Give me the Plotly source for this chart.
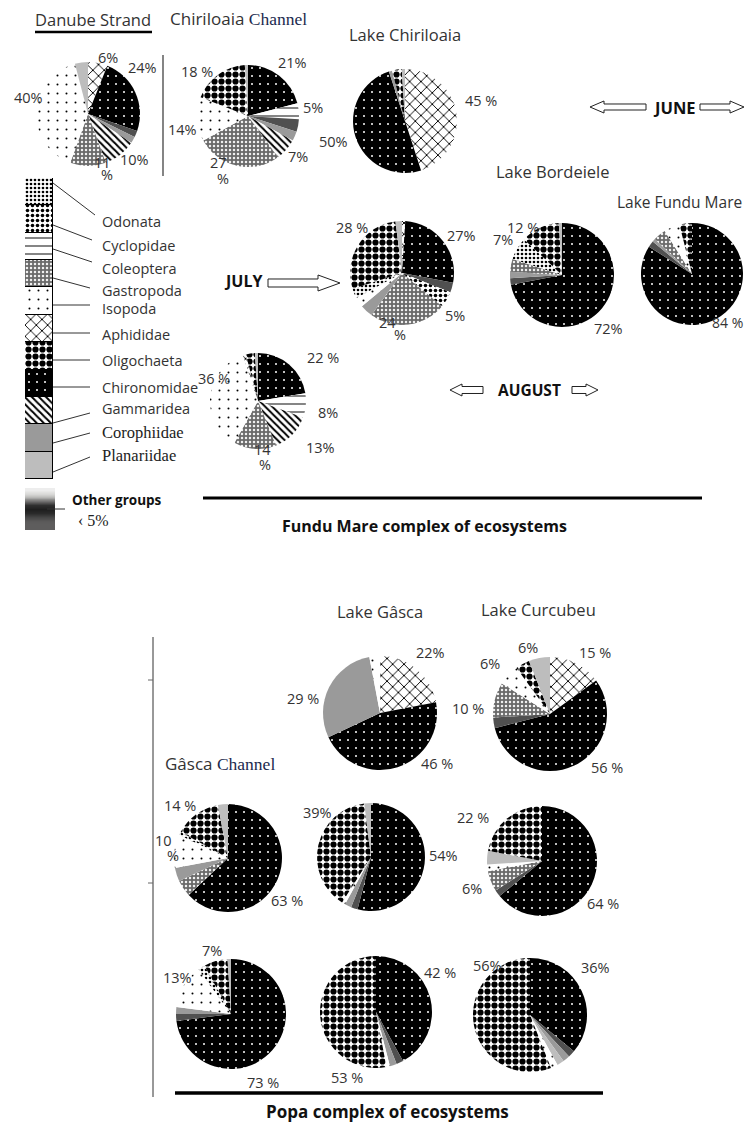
import plotly.graph_objects as go

# The page body adds an 8px margin, so the figure is placed at (8, 8) in the window.
OFF = 8
W, H = 754 - OFF, 1124 - OFF


def px(x):
    return (x - OFF) / W


def py(y):
    return 1 - (y - OFF) / H


# ---------------- DATA ----------------
CATEGORIES = ["Odonata", "Cyclopidae", "Coleoptera", "Gastropoda", "Isopoda", "Aphididae",
              "Oligochaeta", "Chironomidae", "Gammaridea", "Corophiidae", "Planariidae"]
OTHER = "Other groups"

# Fundu Mare complex - June
danube_jun_labels = ["Aphididae", "Chironomidae", "Other groups", "Corophiidae", "Gammaridea",
                     "Gastropoda", "Isopoda", "Planariidae"]
danube_jun_values = [6, 24, 2, 2, 10, 11, 40, 4]

chircan_jun_labels = ["Chironomidae", "Coleoptera", "Other groups", "Corophiidae", "Gammaridea",
                      "Gastropoda", "Isopoda", "Oligochaeta", "Planariidae"]
chircan_jun_values = [21, 5, 4, 3, 7, 27, 14, 18, 1]

chirlake_jun_labels = ["Aphididae", "Chironomidae", "Corophiidae", "Oligochaeta", "Planariidae"]
chirlake_jun_values = [45, 50, 1, 3, 1]

# Fundu Mare complex - July
chircan_jul_labels = ["Aphididae", "Chironomidae", "Other groups", "Cyclopidae", "Gastropoda",
                      "Corophiidae", "Isopoda", "Odonata", "Oligochaeta", "Planariidae"]
chircan_jul_values = [1, 27, 3, 5, 24, 4, 3, 3, 28, 2]

bordeiele_jul_labels = ["Chironomidae", "Other groups", "Corophiidae", "Gastropoda", "Odonata",
                        "Oligochaeta", "Planariidae"]
bordeiele_jul_values = [72, 2, 2, 4, 7, 12, 1]

fundu_jul_labels = ["Chironomidae", "Other groups", "Corophiidae", "Gastropoda", "Isopoda", "Oligochaeta"]
fundu_jul_values = [84, 2, 1, 4, 5, 4]

# Fundu Mare complex - August
chircan_aug_labels = ["Chironomidae", "Coleoptera", "Gammaridea", "Gastropoda", "Isopoda",
                      "Aphididae", "Oligochaeta", "Planariidae"]
chircan_aug_values = [22, 8, 13, 14, 36, 1, 3, 1]

# Popa complex - June
gasca_jun_labels = ["Aphididae", "Chironomidae", "Corophiidae", "Isopoda"]
gasca_jun_values = [22, 46, 29, 3]

curcubeu_jun_labels = ["Aphididae", "Chironomidae", "Other groups", "Gastropoda", "Isopoda",
                       "Oligochaeta", "Planariidae"]
curcubeu_jun_values = [15, 56, 3, 10, 6, 4, 6]

# Popa complex - July
gascacan_jul_labels = ["Chironomidae", "Gastropoda", "Corophiidae", "Isopoda", "Odonata",
                       "Oligochaeta", "Planariidae"]
gascacan_jul_values = [63, 5, 4, 10, 1, 14, 3]

gasca_jul_labels = ["Chironomidae", "Other groups", "Corophiidae", "Isopoda", "Oligochaeta", "Planariidae"]
gasca_jul_values = [54, 2, 2, 1, 39, 2]

curcubeu_jul_labels = ["Chironomidae", "Other groups", "Gastropoda", "Isopoda", "Planariidae", "Oligochaeta"]
curcubeu_jul_values = [64, 2, 6, 2, 4, 22]

# Popa complex - August
gascacan_aug_labels = ["Chironomidae", "Other groups", "Corophiidae", "Isopoda", "Odonata",
                       "Oligochaeta", "Planariidae"]
gascacan_aug_values = [73, 2, 2, 13, 2, 7, 1]

gasca_aug_labels = ["Chironomidae", "Other groups", "Corophiidae", "Isopoda", "Oligochaeta"]
gasca_aug_values = [42, 2, 2, 1, 53]

curcubeu_aug_labels = ["Chironomidae", "Other groups", "Corophiidae", "Planariidae", "Isopoda", "Oligochaeta"]
curcubeu_aug_values = [36, 2, 2, 2, 2, 56]

# ---------------- STYLES ----------------
STYLE = {
    "Odonata":      dict(bg="white", fg="black", shape=".", size=4, sol=0.35),
    "Cyclopidae":   dict(bg="white", fg="black", shape=".", size=5, sol=0.4),
    "Coleoptera":   dict(bg="white", fg="black", shape="-", size=8, sol=0.12),
    "Gastropoda":   dict(bg="#6a6a6a", fg="#f0f0f0", shape=".", size=4, sol=0.3),
    "Isopoda":      dict(bg="white", fg="black", shape=".", size=9, sol=0.04),
    "Aphididae":    dict(bg="white", fg="black", shape="x", size=8, sol=0.22),
    "Oligochaeta":  dict(bg="white", fg="black", shape=".", size=7, sol=0.62),
    "Chironomidae": dict(bg="black", fg="white", shape=".", size=8, sol=0.05),
    "Gammaridea":   dict(bg="white", fg="black", shape="\\", size=5, sol=0.4),
    "Corophiidae":  dict(bg="#9a9a9a", fg="#9a9a9a", shape="", size=8, sol=0.3),
    "Planariidae":  dict(bg="#bdbdbd", fg="#bdbdbd", shape="", size=8, sol=0.3),
    "Other groups": dict(bg="#505050", fg="#505050", shape="", size=8, sol=0.3),
}


def pattern_for(labels):
    st = [STYLE[l] for l in labels]
    return dict(
        colors=[s["bg"] for s in st],
        pattern=dict(shape=[s["shape"] for s in st], fgcolor=[s["fg"] for s in st],
                     bgcolor=[s["bg"] for s in st], size=[s["size"] for s in st],
                     solidity=[s["sol"] for s in st], fillmode="replace"),
        line=dict(width=0),
    )


# pie geometry (center x, center y, radius) in window pixels
PIES = [
    (danube_jun_labels, danube_jun_values, (88, 114, 52)),
    (chircan_jun_labels, chircan_jun_values, (248, 116, 51)),
    (chirlake_jun_labels, chirlake_jun_values, (405, 121, 52)),
    (chircan_jul_labels, chircan_jul_values, (402, 273, 52)),
    (bordeiele_jul_labels, bordeiele_jul_values, (562, 275, 52)),
    (fundu_jul_labels, fundu_jul_values, (692, 274, 51)),
    (chircan_aug_labels, chircan_aug_values, (258, 401, 48)),
    (gasca_jun_labels, gasca_jun_values, (380, 713, 57)),
    (curcubeu_jun_labels, curcubeu_jun_values, (550, 714, 57)),
    (gascacan_jul_labels, gascacan_jul_values, (228, 858, 54)),
    (gasca_jul_labels, gasca_jul_values, (371, 857, 54)),
    (curcubeu_jul_labels, curcubeu_jul_values, (542, 861, 55)),
    (gascacan_aug_labels, gascacan_aug_values, (231, 1014, 55)),
    (gasca_aug_labels, gasca_aug_values, (376, 1012, 56)),
    (curcubeu_aug_labels, curcubeu_aug_values, (530, 1015, 57)),
]

fig = go.Figure()

for labels, values, (cx, cy, r) in PIES:
    fig.add_trace(go.Pie(
        labels=labels, values=values, sort=False, direction="clockwise", rotation=0,
        textinfo="none", hoverinfo="label+percent", showlegend=False,
        marker=pattern_for(labels),
        domain=dict(x=[px(cx - r), px(cx + r)], y=[py(cy + r), py(cy - r)]),
    ))

# ---------------- LEGEND BOXES (stacked bars with patterns) ----------------
n = len(CATEGORIES)
for c in reversed(CATEGORIES):
    s = STYLE[c]
    fig.add_trace(go.Bar(
        x=[0], y=[1], width=1, name=c,
        marker=dict(color=s["bg"],
                    pattern=dict(shape=s["shape"], fgcolor=s["fg"], bgcolor=s["bg"],
                                 size=s["size"], solidity=s["sol"], fillmode="replace"),
                    line=dict(color="black", width=1)),
        xaxis="x", yaxis="y", showlegend=False, hoverinfo="skip",
    ))

other_levels = [0.95, 0.88, 0.75, 0.5, 0.22, 0.15, 0.2, 0.32, 0.4, 0.42, 0.42]
fig.add_trace(go.Heatmap(
    z=[[v] for v in other_levels], colorscale="gray", zmin=0, zmax=1, showscale=False,
    zsmooth="best", xaxis="x2", yaxis="y2", hoverinfo="skip",
))

hidden = dict(showgrid=False, zeroline=False, showticklabels=False, showline=False, fixedrange=True)
fig.update_layout(
    barmode="stack",
    xaxis=dict(domain=[px(25), px(53)], range=[-0.5, 0.5], **hidden),
    yaxis=dict(domain=[py(479), py(178)], range=[0, n], **hidden),
    xaxis2=dict(domain=[px(25), px(55)], **hidden),
    yaxis2=dict(domain=[py(530), py(488)], autorange="reversed", **hidden),
)

# ---------------- TEXT ----------------
SANS = "Open Sans"
SERIF = "Liberation Serif"
TXT = "#333333"
NAVY = "#1b2a4e"
annotations = []


def ann(text, x, y, size=15, bold=False, family=SANS, color=TXT, xanchor="center"):
    if bold:
        text = "<b>" + text + "</b>"
    annotations.append(dict(text=text, x=px(x), y=py(y), xref="paper", yref="paper",
                            xanchor=xanchor, yanchor="middle", showarrow=False,
                            font=dict(size=size, family=family, color=color)))


CH = "<span style='font-family:Liberation Serif;color:%s;font-size:17.5px'>Channel</span>" % NAVY

# titles
ann("Danube Strand", 93, 20, 16.5)
ann("Chiriloaia " + CH, 238, 18, 17)
ann("Lake Chiriloaia", 405, 35, 16.5)
ann("JUNE", 674, 107, 16.5, bold=True, color="#111")
ann("Lake Bordeiele", 553, 172, 16.5)
ann("Lake Fundu Mare", 744, 202, 15.5, xanchor="right")
ann("JULY", 243, 281, 16, bold=True, color="#111")
ann("AUGUST", 529, 390, 15.5, bold=True, color="#111")
ann("Fundu Mare complex of ecosystems", 424, 526, 16, bold=True, color="#111")
ann("Lake Gâsca", 380, 611, 16.5)
ann("Lake Curcubeu", 538, 609, 16.5)
ann("Gâsca " + CH, 220, 763, 17)
ann("Popa complex of ecosystems", 387, 1111, 17, bold=True, color="#111")

# percentage labels (text, x, y)
PCT_LABELS = [
    ("6%", 108, 57), ("24%", 142, 68), ("40%", 28, 97), ("11", 102, 162), ("%", 107, 174), ("10%", 134, 160),
    ("21%", 292, 63), ("18 %", 197, 72), ("5%", 313, 108), ("14%", 182, 130), ("7%", 298, 157),
    ("27", 218, 163), ("%", 223, 179),
    ("45 %", 481, 100), ("50%", 333, 142),
    ("28 %", 352, 228), ("27%", 462, 235), ("5%", 455, 315), ("24", 387, 323), ("%", 400, 335),
    ("12 %", 523, 227), ("7%", 503, 240), ("72%", 608, 328),
    ("22 %", 323, 357), ("36 %", 214, 378), ("8%", 328, 412), ("13%", 320, 447), ("14", 262, 449), ("%", 265, 464),
    ("22%", 430, 652), ("29 %", 303, 698), ("46 %", 437, 763),
    ("6%", 528, 647), ("15 %", 595, 652), ("6%", 490, 663), ("10 %", 468, 708), ("56 %", 607, 767),
    ("14 %", 180, 805), ("10", 163, 840), ("%", 173, 855), ("63 %", 287, 900),
    ("39%", 317, 812), ("54%", 443, 855),
    ("22 %", 473, 817), ("6%", 472, 888), ("64 %", 603, 903),
    ("7%", 212, 950), ("13%", 177, 977), ("73 %", 263, 1082),
    ("53 %", 347, 1077), ("42 %", 440, 972),
    ("56%", 487, 965), ("36%", 595, 967),
]
for t, x, y in PCT_LABELS:
    ann(t, x, y, 14.5)
ann("84 %", 745, 322, 14, xanchor="right")

# legend labels
LEGEND_TEXT_Y = [222, 246, 268, 290, 308, 334, 360, 387, 408, 433, 455]
for c, y in zip(CATEGORIES, LEGEND_TEXT_Y):
    if c in ("Corophiidae", "Planariidae"):
        ann(c, 100, y, 16.5, family=SERIF, color="#222", xanchor="left")
    else:
        ann(c, 100, y, 14.5, xanchor="left")
ann("Other groups", 70, 500, 13.5, bold=True, color="#111", xanchor="left")
ann("‹ 5%", 76, 520, 16, family=SERIF, color="#222", xanchor="left")

# ---------------- SHAPES ----------------
shapes = []


def line(x0, y0, x1, y1, w=1, color="#222"):
    shapes.append(dict(type="line", xref="paper", yref="paper", x0=px(x0), y0=py(y0),
                       x1=px(x1), y1=py(y1), line=dict(color=color, width=w)))


LEADERS = [((53, 183), (95, 215)), ((53, 225), (92, 240)), ((53, 249), (92, 262)),
           ((53, 278), (90, 288)), ((53, 305), (90, 305)), ((53, 333), (90, 333)),
           ((53, 360), (90, 360)), ((53, 387), (90, 387)), ((53, 423), (90, 413)),
           ((53, 443), (90, 433)), ((53, 472), (90, 457)), ((47, 509), (65, 509))]
for (a, b) in LEADERS:
    line(a[0], a[1], b[0], b[1], 1, "#333")

line(35, 32, 152, 32, 2.5, "black")          # Danube underline
line(163, 55, 163, 176, 1.2, "#333")         # separator
line(203, 498, 702, 498, 3, "black")         # Fundu Mare rule
line(153, 637, 153, 1097, 1, "#333")         # Popa vertical
line(148, 680, 153, 680, 1, "#666")
line(148, 883, 153, 883, 1, "#666")
line(175, 1093, 603, 1093, 3.5, "black")     # Popa rule


def block_arrow(x0, x1, y, shaft, head, head_len, direction):
    if direction == "right":
        tail, base, tip = x0, x1 - head_len, x1
    else:
        tail, base, tip = x1, x0 + head_len, x0
    pts = [(tail, y - shaft / 2), (base, y - shaft / 2), (base, y - head / 2), (tip, y),
           (base, y + head / 2), (base, y + shaft / 2), (tail, y + shaft / 2)]
    path = "M " + " L ".join(f"{px(a):.5f},{py(b):.5f}" for a, b in pts) + " Z"
    shapes.append(dict(type="path", xref="paper", yref="paper", path=path,
                       line=dict(color="#222", width=1), fillcolor="white"))


block_arrow(590, 646, 107, 6, 12, 14, "left")
block_arrow(700, 744, 107, 6, 12, 14, "right")
block_arrow(268, 340, 283, 8, 16, 22, "right")
block_arrow(450, 483, 390, 7, 12, 12, "left")
block_arrow(572, 598, 390, 7, 12, 12, "right")

fig.update_layout(
    width=W, height=H, autosize=False,
    margin=dict(l=0, r=0, t=0, b=0),
    paper_bgcolor="white", plot_bgcolor="white",
    showlegend=False, bargap=0,
    annotations=annotations, shapes=shapes,
)

fig.write_html("out.html")
